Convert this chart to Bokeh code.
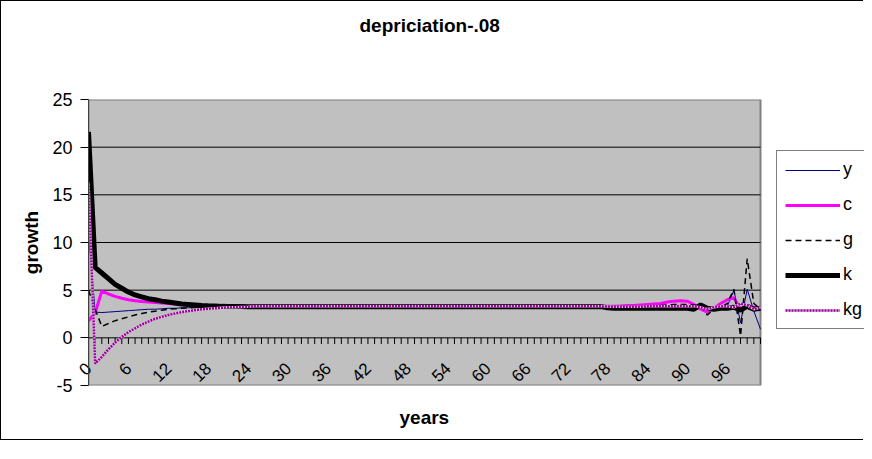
import math
from bokeh.plotting import figure
from bokeh.models import (Range1d, FixedTicker, Legend, LegendItem, Title)
from bokeh.embed import file_html
from bokeh.resources import INLINE

# ---------------- data ----------------
years = list(range(0, 102))
tick_years = list(range(0, 97, 6))
tick_labels = [str(v) for v in tick_years]

y_series = [11.1, 2.7, 2.65, 2.7, 2.75, 2.8, 2.85, 2.9, 2.95, 3.0, 3.0, 3.05, 3.1, 3.1, 3.15, 3.15, 3.2, 3.2, 3.2, 3.22, 3.24, 3.25, 3.25, 3.26, 3.27,
            3.27, 3.27, 3.27, 3.27, 3.27, 3.27, 3.27, 3.27, 3.27, 3.27, 3.27, 3.27, 3.27, 3.27, 3.27, 3.27, 3.27, 3.27, 3.27, 3.27,
            3.27, 3.27, 3.27, 3.27, 3.27, 3.27, 3.27, 3.27, 3.27, 3.27, 3.27, 3.27, 3.27, 3.27, 3.27, 3.27, 3.27, 3.27, 3.27, 3.27,
            3.27, 3.27, 3.27, 3.27, 3.27, 3.27, 3.27, 3.27, 3.27, 3.27, 3.27, 3.27, 3.27,
            3.22, 3.2, 3.2, 3.2,
            3.2, 3.2, 3.2, 3.2, 3.2, 3.25, 3.25, 3.3, 3.3, 3.2, 3.1, 3.0, 3.1, 3.2, 3.3, 5.0, 1.6, 5.1, 2.8, 0.9]

c_series = [1.8, 2.6, 4.9, 4.6, 4.35, 4.15, 4.0, 3.9, 3.8, 3.75, 3.7, 3.65, 3.6, 3.55, 3.5, 3.45, 3.42, 3.4, 3.38, 3.36, 3.34, 3.33, 3.32, 3.31, 3.3,
            3.3, 3.3, 3.3, 3.3, 3.3, 3.3, 3.3, 3.3, 3.3, 3.3, 3.3, 3.3, 3.3, 3.3, 3.3, 3.3, 3.3, 3.3, 3.3, 3.3,
            3.3, 3.3, 3.3, 3.3, 3.3, 3.3, 3.3, 3.3, 3.3, 3.3, 3.3, 3.3, 3.3, 3.3, 3.3, 3.3, 3.3, 3.3, 3.3, 3.3,
            3.3, 3.3, 3.3, 3.3, 3.3, 3.3, 3.3, 3.3, 3.3, 3.3, 3.3, 3.3, 3.3,
            3.3, 3.32, 3.35, 3.38,
            3.4, 3.45, 3.5, 3.55, 3.6, 3.75, 3.85, 3.9, 3.85, 3.5, 3.0, 2.7, 3.1, 3.6, 4.0, 4.2, 3.0, 3.4, 3.2, 2.9]

g_series = [5.0, 3.0, 1.2, 1.5, 1.8, 2.0, 2.2, 2.4, 2.55, 2.7, 2.8, 2.9, 3.0, 3.05, 3.1, 3.15, 3.18, 3.2, 3.22, 3.24, 3.25, 3.26, 3.27, 3.27, 3.27,
            3.27, 3.27, 3.27, 3.27, 3.27, 3.27, 3.27, 3.27, 3.27, 3.27, 3.27, 3.27, 3.27, 3.27, 3.27, 3.27, 3.27, 3.27, 3.27, 3.27,
            3.27, 3.27, 3.27, 3.27, 3.27, 3.27, 3.27, 3.27, 3.27, 3.27, 3.27, 3.27, 3.27, 3.27, 3.27, 3.27, 3.27, 3.27, 3.27, 3.27,
            3.27, 3.27, 3.27, 3.27, 3.27, 3.27, 3.27, 3.27, 3.27, 3.27, 3.27, 3.27, 3.27,
            3.28, 3.3, 3.3, 3.3,
            3.3, 3.3, 3.3, 3.35, 3.4, 3.45, 3.5, 3.5, 3.5, 3.45, 3.4, 2.4, 3.0, 3.2, 3.6, 5.1, 0.2, 8.3, 3.6, 3.0]

k_series = [21.6, 7.4, 6.8, 6.2, 5.6, 5.2, 4.8, 4.5, 4.3, 4.1, 4.0, 3.85, 3.75, 3.65, 3.55, 3.5, 3.45, 3.4, 3.36, 3.33, 3.3, 3.29, 3.28, 3.28, 3.27,
            3.27, 3.27, 3.27, 3.27, 3.27, 3.27, 3.27, 3.27, 3.27, 3.27, 3.27, 3.27, 3.27, 3.27, 3.27, 3.27, 3.27, 3.27, 3.27, 3.27,
            3.27, 3.27, 3.27, 3.27, 3.27, 3.27, 3.27, 3.27, 3.27, 3.27, 3.27, 3.27, 3.27, 3.27, 3.27, 3.27, 3.27, 3.27, 3.27, 3.27,
            3.27, 3.27, 3.27, 3.27, 3.27, 3.27, 3.27, 3.27, 3.27, 3.27, 3.27, 3.27, 3.27,
            3.15, 3.1, 3.1, 3.1,
            3.1, 3.1, 3.1, 3.1, 3.1, 3.1, 3.1, 3.1, 3.1, 3.0, 3.45, 3.1, 3.0, 3.1, 3.1, 3.2, 2.9, 3.3, 3.0, 3.1]

kg_series = [16.3, -2.7, -2.0, -1.2, -0.5, 0.1, 0.6, 1.0, 1.4, 1.7, 2.0, 2.2, 2.4, 2.55, 2.7, 2.8, 2.9, 3.0, 3.05, 3.1, 3.15, 3.2, 3.22, 3.24, 3.25,
             3.3, 3.3, 3.3, 3.3, 3.3, 3.3, 3.3, 3.3, 3.3, 3.3, 3.3, 3.3, 3.3, 3.3, 3.3, 3.3, 3.3, 3.3, 3.3, 3.3,
             3.3, 3.3, 3.3, 3.3, 3.3, 3.3, 3.3, 3.3, 3.3, 3.3, 3.3, 3.3, 3.3, 3.3, 3.3, 3.3, 3.3, 3.3, 3.3, 3.3,
             3.3, 3.3, 3.3, 3.3, 3.3, 3.3, 3.3, 3.3, 3.3, 3.3, 3.3, 3.3, 3.3,
             3.28, 3.25, 3.25, 3.25,
             3.25, 3.25, 3.3, 3.3, 3.3, 3.3, 3.3, 3.35, 3.3, 3.3, 3.2, 3.0, 3.2, 3.3, 3.3, 3.2, 3.6, 3.4, 3.0, 3.2]

y_ticks = [-5, 0, 5, 10, 15, 20, 25]
grid_ticks = [0, 5, 10, 15, 20]

FONT = "Liberation Sans"

# ---------------- layout ----------------
W, H = 863, 440
LEFT, TOP, BOTTOM = 87, 98, 56
FRAME_W = W - LEFT            # frame runs to the right edge (legend lives there)
PLOT_W = 672                  # width of the grey plot area in px
x_end = years[-1] * FRAME_W / PLOT_W

p = figure(width=W, height=H, output_backend="svg", toolbar_location=None,
           x_range=Range1d(years[0], x_end), y_range=Range1d(y_ticks[0], y_ticks[-1]),
           min_border_left=LEFT, min_border_right=0, min_border_top=TOP,
           min_border_bottom=BOTTOM)

p.styles = {"border-left": "1px solid black", "border-top": "1px solid black",
            "border-bottom": "1px solid black"}

p.background_fill_color = "white"
p.border_fill_color = "white"
p.outline_line_color = None

# title
p.title.text = "depriciation-.08"
p.title.align = "left"
p.title.offset = 271
p.title.standoff = 0
p.title.vertical_align = "bottom"
p.title.padding = dict(left=0, right=0, top=0, bottom=64)
p.title.text_font = FONT
p.title.text_font_style = "bold"
p.title.text_font_size = "19px"
p.title.text_color = "black"

# grey plot area + gridlines
p.quad(left=[years[0]], right=[years[-1]], bottom=[y_ticks[0]], top=[y_ticks[-1]],
       fill_color="#C0C0C0", line_color="#808080", line_width=2)
p.grid.visible = False
p.segment(x0=[years[0]] * len(grid_ticks), x1=[years[-1]] * len(grid_ticks),
          y0=grid_ticks, y1=grid_ticks, line_color="black", line_width=1)

# y axis
p.yaxis.ticker = FixedTicker(ticks=y_ticks)
p.yaxis.major_label_overrides = {-5: "-5"}
p.yaxis.minor_tick_line_color = None
p.yaxis.major_tick_in = 0
p.yaxis.major_tick_out = 8
p.yaxis.major_tick_line_color = "black"
p.yaxis.axis_line_color = "#404040"
p.yaxis.major_label_text_font = FONT
p.yaxis.major_label_text_font_size = "18px"
p.yaxis.major_label_text_color = "black"
p.yaxis.major_label_standoff = 8
p.yaxis.axis_label = "growth"
p.yaxis.axis_label_text_font = FONT
p.yaxis.axis_label_text_font_style = "bold"
p.yaxis.axis_label_text_font_size = "19px"
p.yaxis.axis_label_text_color = "black"
p.yaxis.axis_label_standoff = 7

# x axis: rotated category labels lifted up into the plot area
p.xaxis.ticker = FixedTicker(ticks=tick_years)
p.xaxis.major_label_overrides = {t: s for t, s in zip(tick_years, tick_labels)}
p.xaxis.major_label_orientation = math.pi / 4
p.xaxis.axis_line_color = None
p.xaxis.major_tick_line_color = None
p.xaxis.minor_tick_line_color = None
p.xaxis.major_tick_out = 0
p.xaxis.major_tick_in = 0
p.xaxis.major_label_standoff = -20
p.xaxis.major_label_text_font = FONT
p.xaxis.major_label_text_font_size = "17px"
p.xaxis.major_label_text_color = "black"

# x axis title, centred under the grey plot area
p.add_layout(Title(text="years", align="left", offset=311, standoff=0,
                   vertical_align="top", padding=dict(left=0, right=0, top=16, bottom=0),
                   text_font=FONT, text_font_style="bold", text_font_size="19px",
                   text_color="black"), "below")

# category tick marks on the zero line
p.segment(x0=years, y0=[0] * len(years), x1=years, y1=[-0.65] * len(years),
          line_color="black", line_width=1)

# series
r_y = p.line(years, y_series, line_color="#000080", line_width=1)
r_c = p.line(years, c_series, line_color="#FF00FF", line_width=3)
r_g = p.line(years, g_series, line_color="black", line_width=1.5, line_dash="6 4")
r_k = p.line(years, k_series, line_color="black", line_width=5)
r_kg0 = p.line(years, kg_series, line_color="#E8D0E8", line_width=2.5)
r_kg = p.line(years, kg_series, line_color="#990099", line_width=2.5, line_dash="2 1")

legend = Legend(items=[
    LegendItem(label="y", renderers=[r_y]),
    LegendItem(label="c", renderers=[r_c]),
    LegendItem(label="g", renderers=[r_g]),
    LegendItem(label="k", renderers=[r_k]),
    LegendItem(label="kg", renderers=[r_kg0, r_kg]),
], location=(PLOT_W + 16, 56))
legend.border_line_color = "black"
legend.border_line_width = 1
legend.background_fill_color = "white"
legend.background_fill_alpha = 1
legend.label_text_font = FONT
legend.label_text_font_size = "18px"
legend.label_text_color = "black"
legend.glyph_width = 55
legend.glyph_height = 20
legend.label_height = 20
legend.label_standoff = 3
legend.spacing = 14
legend.padding = 8
legend.margin = 0
p.add_layout(legend)

open("out.html", "w").write(file_html(p, INLINE))
